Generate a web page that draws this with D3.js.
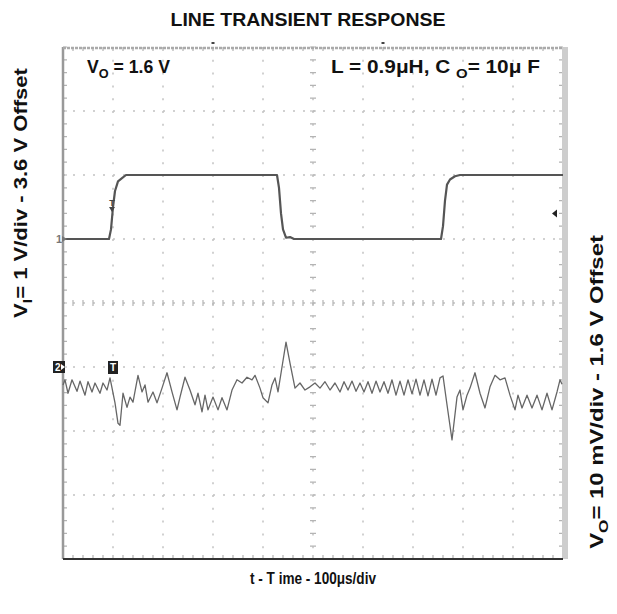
<!DOCTYPE html>
<html>
<head>
<meta charset="utf-8">
<script src="https://cdn.jsdelivr.net/npm/d3@7"></script>
<style>
  body { margin: 0; background: #fff; }
  svg { display: block; font-family: "Liberation Sans", Arial, Helvetica, sans-serif; }
</style>
</head>
<body>
<svg id="chart" width="617" height="614"></svg>
<script>
// channel 1: input step, time in us, volts
var viTime  = [0, 92, 96, 100, 104, 110, 118, 126, 428, 432, 436, 440, 446, 454, 462, 756, 760, 764, 768, 774, 784, 794, 1000];
var viVolts = [3.6, 3.6, 3.75, 4.1, 4.35, 4.5, 4.55, 4.6, 4.6, 4.4, 4.0, 3.75, 3.62, 3.63, 3.6, 3.6, 3.8, 4.2, 4.45, 4.53, 4.58, 4.6, 4.6];

// channel 2: output ripple, time in us, mV away from the 1.6 V offset
var voTime = [0, 4, 10, 18, 28, 34, 44, 50, 58, 64, 74, 80, 88, 94, 104, 110, 114, 120, 128, 134,
    140, 150, 158, 164, 170, 180, 188, 198, 208, 218, 228, 234, 244, 254, 264, 270, 278, 284, 290, 300,
    310, 318, 328, 338, 348, 358, 368, 378, 384, 394, 400, 410, 418, 424, 430, 438, 446, 454, 464, 474,
    484, 494, 504, 514, 524, 534, 544, 554, 562, 570, 578, 586, 594, 602, 610, 618, 626, 634, 642, 650,
    658, 666, 674, 682, 690, 698, 706, 714, 722, 730, 738, 746, 754, 760, 768, 778, 788, 794, 800, 808,
    814, 824, 834, 844, 854, 864, 874, 884, 894, 904, 910, 918, 928, 938, 948, 958, 968, 978, 988, 994, 998];
var voMv = [-2.8, -2.0, -4.1, -2.0, -3.8, -2.2, -4.4, -2.3, -3.9, -2.5, -4.1, -2.5, -3.6, -1.7, -5.6, -8.8, -9.1, -4.1, -6.3, -4.7,
    -5.5, -1.3, -3.9, -2.8, -5.5, -3.9, -5.6, -3.3, -0.9, -3.9, -6.7, -4.7, -1.6, -3.6, -5.9, -4.1, -7.0, -4.4, -6.7, -4.7,
    -6.7, -4.8, -6.7, -3.6, -2.0, -2.5, -1.6, -2.0, -1.3, -3.3, -4.8, -5.6, -2.8, -1.7, -3.9, 0.0, 3.9, 0.6, -3.3, -2.5,
    -3.6, -3.1, -2.5, -3.3, -2.3, -3.6, -2.5, -3.9, -2.3, -3.6, -2.2, -3.8, -2.5, -3.9, -2.3, -4.1, -2.2, -3.9, -2.3, -4.1,
    -2.0, -4.4, -2.2, -4.4, -2.0, -4.2, -1.9, -4.4, -2.0, -4.5, -1.9, -4.4, -1.7, -1.4, -5.9, -11.4, -4.7, -3.6, -6.7, -4.4,
    -3.3, -0.9, -4.1, -6.4, -3.1, -1.3, -2.0, -1.7, -4.4, -6.7, -4.4, -6.4, -4.4, -6.4, -4.4, -6.7, -4.1, -6.7, -3.9, -2.0, -2.7];

var timeDivs = d3.range(0, 1001, 100);   // 100 us/div, 10 div
var voDivs = d3.range(-30, 51, 10);      // 10 mV/div, 8 div

var svg = d3.select("#chart");
var plotL = 63, plotR = 563, plotT = 47, plotB = 559;

var x = d3.scaleLinear().domain([0, 1000]).range([plotL, plotR]);
var yVi = d3.scaleLinear().domain([-1.4, 6.6]).range([plotB, plotT]);
var yVo = d3.scaleLinear().domain([-30, 50]).range([plotB, plotT]);

var grid = svg.append("g").attr("class", "grid");

// dotted division lines
grid.selectAll(".vgrid")
    .data(timeDivs.slice(1, -1))
    .enter().append("line")
    .attr("x1", function(d) { return x(d); })
    .attr("x2", function(d) { return x(d); })
    .attr("y1", plotT).attr("y2", plotB)
    .attr("stroke", "#c2c2c2")
    .attr("stroke-width", 1.5)
    .attr("stroke-dasharray", "2,10.8");

grid.selectAll(".hgrid")
    .data(voDivs.slice(1, -1))
    .enter().append("line")
    .attr("x1", plotL).attr("x2", plotR)
    .attr("y1", function(d) { return yVo(d); })
    .attr("y2", function(d) { return yVo(d); })
    .attr("stroke", "#c2c2c2")
    .attr("stroke-width", 1.5)
    .attr("stroke-dasharray", "2,8");

// minor ticks on the centre lines and the frame
var minorT = d3.range(0, 1001, 20);
var minorV = d3.range(-30, 50.1, 2);
var yMid = yVo(10), xMid = x(500);

grid.selectAll(".mt")
    .data(minorT)
    .enter().append("path")
    .attr("d", function(d) {
        var px = x(d);
        return "M" + px + "," + (yMid - 3) + "V" + (yMid + 3) +
               "M" + px + "," + plotT + "v4" +
               "M" + px + "," + plotB + "v-4";
    })
    .attr("stroke", "#b4b4b4").attr("stroke-width", 1.2);

grid.selectAll(".mv")
    .data(minorV)
    .enter().append("path")
    .attr("d", function(d) {
        var py = yVo(d);
        return "M" + (xMid - 3) + "," + py + "H" + (xMid + 3) +
               "M" + plotL + "," + py + "h4" +
               "M" + plotR + "," + py + "h-4";
    })
    .attr("stroke", "#b4b4b4").attr("stroke-width", 1.2);

// frame
svg.append("line").attr("x1", plotL).attr("x2", plotL).attr("y1", plotT).attr("y2", plotB)
    .attr("stroke", "#999").attr("stroke-width", 2.5);
svg.append("line").attr("x1", plotL).attr("x2", plotR).attr("y1", plotT + 1).attr("y2", plotT + 1)
    .attr("stroke", "#aaa").attr("stroke-width", 2.5).attr("stroke-dasharray", "3,1");
svg.append("rect").attr("x", plotR - 1).attr("y", plotT).attr("width", 6).attr("height", plotB - plotT)
    .attr("fill", "#cdcdcd");
svg.append("line").attr("x1", plotL).attr("x2", plotR).attr("y1", plotB).attr("y2", plotB)
    .attr("stroke", "#333").attr("stroke-width", 2);

// traces
var lineVi = d3.line()
    .x(function(d, i) { return x(viTime[i]); })
    .y(function(d) { return yVi(d); });
var lineVo = d3.line()
    .x(function(d, i) { return x(voTime[i]); })
    .y(function(d) { return yVo(d); });

svg.append("path")
    .datum(viVolts)
    .attr("d", lineVi)
    .attr("fill", "none")
    .attr("stroke", "#555")
    .attr("stroke-width", 2.2)
    .attr("stroke-linejoin", "round");

svg.append("path")
    .datum(voMv)
    .attr("d", lineVo)
    .attr("fill", "none")
    .attr("stroke", "#666")
    .attr("stroke-width", 1.3)
    .attr("stroke-linejoin", "round");

// scope markers
var y1 = yVi(3.6), y2 = yVo(0);
svg.append("text").attr("x", 56).attr("y", y1 + 4).attr("font-size", 11).attr("font-weight", "bold")
    .attr("fill", "#777").text("1");
svg.append("path").attr("d", "M62," + (y1 - 3) + "L67," + y1 + "L62," + (y1 + 3) + "Z").attr("fill", "#777");

svg.append("rect").attr("x", 53).attr("y", y2 - 6).attr("width", 12).attr("height", 12).attr("fill", "#222");
svg.append("text").attr("x", 55).attr("y", y2 + 4).attr("font-size", 10).attr("font-weight", "bold")
    .attr("fill", "#fff").text("2");
svg.append("path").attr("d", "M61," + (y2 - 3) + "L65," + y2 + "L61," + (y2 + 3) + "Z").attr("fill", "#fff");

var xTrig = x(100);
svg.append("rect").attr("x", xTrig - 5).attr("y", y2 - 6).attr("width", 10).attr("height", 13).attr("fill", "#222");
svg.append("text").attr("x", xTrig).attr("y", y2 + 4).attr("text-anchor", "middle").attr("font-size", 10)
    .attr("font-weight", "bold").attr("fill", "#fff").text("T");

// trigger point on the input edge
var yEdge = yVi(4.1);
svg.append("text").attr("x", xTrig - 1).attr("y", yEdge - 1).attr("text-anchor", "middle").attr("font-size", 9)
    .attr("font-weight", "bold").attr("fill", "#444").text("T");
svg.append("path").attr("d", "M" + (xTrig - 4) + "," + yEdge + "L" + (xTrig + 2) + "," + yEdge +
    "L" + (xTrig - 1) + "," + (yEdge + 5) + "Z").attr("fill", "#444");

var yLevel = yVi(4.0);
svg.append("path").attr("d", "M" + (plotR - 11) + "," + yLevel + "L" + (plotR - 6) + "," + (yLevel - 4) +
    "L" + (plotR - 6) + "," + (yLevel + 4) + "Z").attr("fill", "#222");

svg.selectAll(".topmark")
    .data([300, 640])
    .enter().append("line")
    .attr("x1", function(d) { return x(d) - 1.5; })
    .attr("x2", function(d) { return x(d) + 1.5; })
    .attr("y1", 43).attr("y2", 43)
    .attr("stroke", "#444").attr("stroke-width", 2);

// labels, stretched to the widths measured on the original
function fit(text, width) {
    var w = text.node().getComputedTextLength();
    text.attr("transform", "scale(" + (width / w) + ",1)");
}

function label(cx, cy, rot, anchor, size, parts, width) {
    var g = svg.append("g").attr("transform", "translate(" + cx + "," + cy + ") rotate(" + rot + ")");
    var t = g.append("text")
        .attr("text-anchor", anchor)
        .attr("font-weight", "bold")
        .attr("font-size", size)
        .attr("fill", "#111");
    parts.forEach(function(p) {
        var s = t.append("tspan").text(p.t);
        if (p.sub) s.attr("font-size", size * 0.72).attr("dy", size * 0.28);
        if (p.back) s.attr("dy", -size * 0.28);
    });
    fit(t, width);
}

label(308, 26, 0, "middle", 18, [{t: "LINE TRANSIENT RESPONSE"}], 275);
label(87, 73, 0, "start", 18, [{t: "V"}, {t: "O", sub: true}, {t: " = 1.6 V", back: true}], 83);
label(331, 73, 0, "start", 18, [{t: "L = 0.9\u03bcH, C "}, {t: "O", sub: true}, {t: "= 10\u03bc F", back: true}], 209);
label(27, 193, -90, "middle", 18, [{t: "V"}, {t: "I", sub: true}, {t: "= 1 V/div - 3.6 V Offset", back: true}], 250);
label(603, 392, -90, "middle", 18, [{t: "V"}, {t: "O", sub: true}, {t: "= 10 mV/div - 1.6 V Offset", back: true}], 314);
label(313, 584, 0, "middle", 17, [{t: "t - T ime - 100\u03bcs/div"}], 126);
</script>
</body>
</html>
